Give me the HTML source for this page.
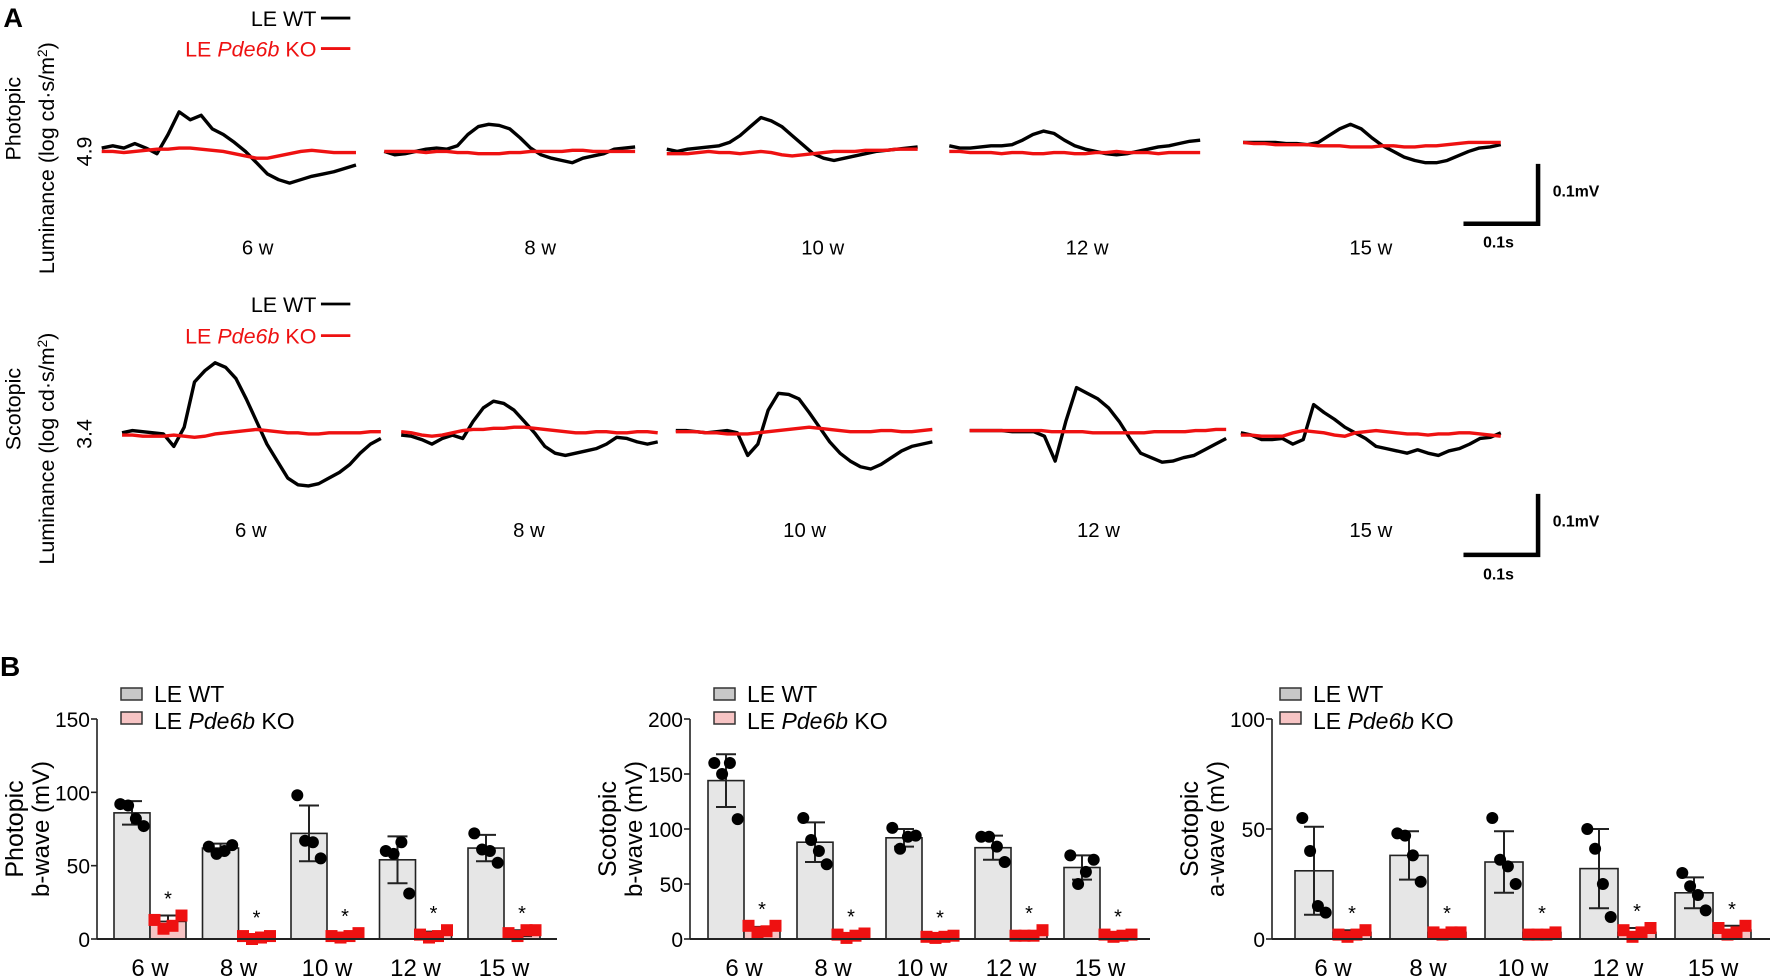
<!DOCTYPE html>
<html><head><meta charset="utf-8"><style>
html,body{margin:0;padding:0;background:#fff;}
svg{display:block;font-family:"Liberation Sans",Arial,sans-serif;}
</style></head><body>
<svg id="fig" width="1772" height="978" viewBox="0 0 1772 978" xmlns="http://www.w3.org/2000/svg">
<g id="panelA" transform="scale(1.1301)">
  <text x="3" y="24" font-size="24" font-weight="bold">A</text>
  <g>
    <text x="280" y="23" font-size="19" text-anchor="end">LE WT</text>
    <line x1="284" y1="16" x2="310" y2="16" stroke="#000" stroke-width="2.5"/>
    <text x="280" y="50" font-size="19" text-anchor="end" fill="#ee1111">LE <tspan font-style="italic">Pde6b</tspan> KO</text>
    <line x1="284" y1="43" x2="310" y2="43" stroke="#ee1111" stroke-width="2.5"/>
  </g>
  <g>
    <text x="280" y="276" font-size="19" text-anchor="end">LE WT</text>
    <line x1="284" y1="269" x2="310" y2="269" stroke="#000" stroke-width="2.5"/>
    <text x="280" y="304" font-size="19" text-anchor="end" fill="#ee1111">LE <tspan font-style="italic">Pde6b</tspan> KO</text>
    <line x1="284" y1="297" x2="310" y2="297" stroke="#ee1111" stroke-width="2.5"/>
  </g>
  <text transform="translate(18,105) rotate(-90)" font-size="19" text-anchor="middle">Photopic</text>
  <text transform="translate(48,140) rotate(-90)" font-size="19" text-anchor="middle">Luminance (log cd·s/m<tspan baseline-shift="super" font-size="12">2</tspan>)</text>
  <text transform="translate(81,134) rotate(-90)" font-size="19" text-anchor="middle">4.9</text>
  <text transform="translate(18,362) rotate(-90)" font-size="19" text-anchor="middle">Scotopic</text>
  <text transform="translate(48,397) rotate(-90)" font-size="19" text-anchor="middle">Luminance (log cd·s/m<tspan baseline-shift="super" font-size="12">2</tspan>)</text>
  <text transform="translate(81,384) rotate(-90)" font-size="19" text-anchor="middle">3.4</text>
  <g>
    <path d="M1361,145 V198 H1295" fill="none" stroke="#000" stroke-width="4"/>
    <text x="1374" y="174" font-size="14" font-weight="bold">0.1mV</text>
    <text x="1326" y="219" font-size="14" font-weight="bold" text-anchor="middle">0.1s</text>
  </g>
  <g>
    <path d="M1361,437 V491 H1295" fill="none" stroke="#000" stroke-width="4"/>
    <text x="1374" y="466" font-size="14" font-weight="bold">0.1mV</text>
    <text x="1326" y="513" font-size="14" font-weight="bold" text-anchor="middle">0.1s</text>
  </g>
  <g id="traces"></g>
</g>
<text x="0" y="676" font-size="28" font-weight="bold">B</text>
<g id="bars"></g>
</svg>
<script>
const NS='http://www.w3.org/2000/svg';
const weekLabels=['6 w','8 w','10 w','12 w','15 w'];

// ---- Panel A trace data (deflection, positive = up) ----
const photoWT6=[3,5,3,7,3,-2,15,35,28,32,20,15,8,0,-10,-20,-25,-28,-25,-22,-20,-18,-15,-12];
const photoKO6=[0,0,-1,0,1,2,2,3,3,2,1,0,-2,-4,-6,-6,-4,-2,0,1,0,-1,-1,-1];
const photoWT8=[0,-3,-2,0,2,3,2,5,15,22,24,23,20,12,3,-3,-6,-8,-10,-6,-4,-2,2,3,4];
const photoKO8=[0,0,0,0,-1,0,0,-1,-1,-2,-2,-2,-1,-1,0,0,0,0,1,1,0,0,0,0,0];
const photoWT10=[2,0,2,3,4,5,8,14,22,30,27,22,14,6,-2,-6,-8,-6,-4,-2,0,1,2,3,4];
const photoKO10=[-2,-2,-2,-1,0,-1,-1,-2,-1,0,-1,-3,-4,-3,-2,-1,0,0,0,1,1,1,2,2,2];
const photoWT12=[5,3,3,4,5,5,6,10,15,18,16,10,5,2,0,-2,-3,-2,0,2,4,5,7,9,10];
const photoKO12=[0,0,-1,-1,-1,-2,-1,-1,-2,-2,-1,-1,-2,-2,-1,-1,0,-1,-1,-1,-2,-1,-1,-1,-1];
const photoWT15=[8,8,8,8,7,7,6,8,14,20,24,20,12,5,0,-5,-8,-10,-10,-8,-4,0,3,4,6];
const photoKO15=[8,7,7,6,6,6,6,5,5,5,4,4,4,5,5,4,4,5,5,6,7,8,8,8,8];
const scotWT6=[0,2,1,0,-1,-12,5,45,55,62,58,48,30,10,-10,-25,-40,-46,-47,-45,-40,-35,-28,-18,-10,-5];
const scotKO6=[-2,-2,-3,-3,-3,-2,-3,-4,-3,-1,0,1,2,3,2,1,0,0,-1,-1,0,0,0,0,1,1];
const scotWT8=[-2,-3,-6,-10,-5,-2,-5,10,22,28,26,20,10,0,-12,-18,-20,-18,-16,-14,-10,-4,-5,-8,-10,-8];
const scotKO8=[1,0,-2,-3,-2,0,2,3,3,4,4,5,5,4,3,2,1,0,0,1,1,0,0,1,1,0];
const scotWT10=[2,2,1,0,1,2,0,-20,-10,20,35,34,30,18,5,-8,-18,-25,-30,-32,-28,-22,-16,-12,-10,-8];
const scotKO10=[1,1,1,0,0,-1,-1,-1,0,1,2,3,4,5,4,3,2,1,1,1,2,2,1,1,2,3];
const scotWT12=[2,2,2,2,1,1,1,-3,-25,10,40,35,30,22,10,-5,-18,-22,-26,-25,-22,-20,-15,-10,-5];
const scotKO12=[2,2,2,2,2,2,2,2,1,1,1,1,0,0,0,0,0,0,1,1,1,1,2,2,3,3];
const scotWT15=[0,-2,-6,-6,-5,-10,-6,25,18,12,5,0,-5,-12,-14,-16,-18,-15,-18,-20,-16,-14,-10,-5,-4,0];
const scotKO15=[-2,-2,-3,-3,-3,0,2,1,0,-2,-3,0,1,2,1,0,-1,-1,-2,-1,-1,0,0,-1,-2,-3];

const traceSets=[
 {row:0,x0:90,x1:315,wt:photoWT6,ko:photoKO6,lab:0},
 {row:0,x0:340,x1:562,wt:photoWT8,ko:photoKO8,lab:1},
 {row:0,x0:590,x1:812,wt:photoWT10,ko:photoKO10,lab:2},
 {row:0,x0:840,x1:1062,wt:photoWT12,ko:photoKO12,lab:3},
 {row:0,x0:1100,x1:1328,wt:photoWT15,ko:photoKO15,lab:4},
 {row:1,x0:108,x1:337,wt:scotWT6,ko:scotKO6,lab:0},
 {row:1,x0:355,x1:582,wt:scotWT8,ko:scotKO8,lab:1},
 {row:1,x0:598,x1:825,wt:scotWT10,ko:scotKO10,lab:2},
 {row:1,x0:858,x1:1085,wt:scotWT12,ko:scotKO12,lab:3},
 {row:1,x0:1098,x1:1328,wt:scotWT15,ko:scotKO15,lab:4}];
const rowBase=[134,383], rowLabelY=[225,475];
const labCx=[[228,478,728,962,1213],[222,468,712,972,1213]];
const tg=document.getElementById('traces');
function traceY(row,v){return rowBase[row]-v;}
function tracePath(arr,x0,x1,row){
  const n=arr.length;let d='';
  arr.forEach((v,i)=>{const x=x0+(x1-x0)*i/(n-1);d+=(i?'L':'M')+x.toFixed(1)+','+traceY(row,v).toFixed(1);});
  return d;
}
traceSets.forEach((t,k)=>{
  const pk=document.createElementNS(NS,'path');
  pk.setAttribute('d',tracePath(t.ko,t.x0,t.x1,t.row));
  pk.setAttribute('fill','none');pk.setAttribute('stroke','#ee1111');pk.setAttribute('stroke-width','3');
  
  
  const pw=document.createElementNS(NS,'path');
  pw.setAttribute('d',tracePath(t.wt,t.x0,t.x1,t.row));
  pw.setAttribute('fill','none');pw.setAttribute('stroke','#000');pw.setAttribute('stroke-width','3');pw.setAttribute('stroke-linejoin','round');
  
  
  tg.appendChild(pw);tg.appendChild(pk);
  const tx=document.createElementNS(NS,'text');
  tx.setAttribute('x',labCx[t.row][t.lab]);tx.setAttribute('y',rowLabelY[t.row]);
  tx.setAttribute('font-size','18');tx.setAttribute('text-anchor','middle');
  tx.textContent=weekLabels[t.lab];
  
  
  tg.appendChild(tx);
});

// ---- Panel B bar data ----
const photoWTMean=[86,62,72,54,62], photoWTSD=[8,3,19,16,9];
const photoWTPts=[[92,91,82,77],[63,58,60,64],[98,67,66,55],[60,58,66,31],[72,61,60,52]];
const photoKOMean=[12,2,2,3,4], photoKOSD=[4,1,1,2,2];
const photoKOPts=[[13,7,9,16],[2,0,1,2],[2,1,2,4],[3,1,2,6],[4,2,6,6]];
const scotBWTMean=[144,88,92,83,65], scotBWTSD=[24,18,8,11,11];
const scotBWTPts=[[160,150,160,109],[110,90,80,68],[101,82,93,94],[93,93,84,70],[76,50,61,72]];
const scotBKOMean=[9,4,3,4,4], scotBKOSD=[2,1,1,2,1];
const scotBKOPts=[[12,6,7,12],[4,1,3,5],[2,1,2,3],[3,3,3,8],[4,2,3,4]];
const scotAWTMean=[31,38,35,32,21], scotAWTSD=[20,11,14,18,7];
const scotAWTPts=[[55,40,15,12],[48,47,38,26],[55,36,33,25],[50,41,25,10],[30,24,20,13]];
const scotAKOMean=[3,3,3,3,4], scotAKOSD=[1,1,1,2,2];
const scotAKOPts=[[2,1,2,4],[3,2,3,3],[2,2,2,3],[4,1,3,5],[5,2,3,6]];
const photoTicks=[0,50,100,150], scotBTicks=[0,50,100,150,200], scotATicks=[0,50,100];

const charts=[
 {ax:97,len:460,off:17,sp:88.5,bw:36,max:150,ticks:photoTicks,wm:photoWTMean,ws:photoWTSD,wp:photoWTPts,km:photoKOMean,ks:photoKOSD,kp:photoKOPts,t1:'Photopic',t2:'b-wave (mV)',name:'photopic-b-wave'},
 {ax:690,len:460,off:18,sp:89,bw:36,max:200,ticks:scotBTicks,wm:scotBWTMean,ws:scotBWTSD,wp:scotBWTPts,km:scotBKOMean,ks:scotBKOSD,kp:scotBKOPts,t1:'Scotopic',t2:'b-wave (mV)',name:'scotopic-b-wave'},
 {ax:1272,len:498,off:23,sp:95,bw:38,max:100,ticks:scotATicks,wm:scotAWTMean,ws:scotAWTSD,wp:scotAWTPts,km:scotAKOMean,ks:scotAKOSD,kp:scotAKOPts,t1:'Scotopic',t2:'a-wave (mV)',name:'scotopic-a-wave'}];
const Y0=939, YT=719;
const bg=document.getElementById('bars');
function mk(tag,attrs,parent){const e=document.createElementNS(NS,tag);for(const k in attrs)e.setAttribute(k,attrs[k]);parent.appendChild(e);return e;}
charts.forEach(c=>{
  const g=mk('g',{},bg);
  
  
  const ys=v=>Y0-(v/c.max)*(Y0-YT);
  const dx=[-9,-3,3,9];
  c.wm.forEach((m,i)=>{
    const xw=c.ax+c.off+i*c.sp, xk=xw+c.bw;
    const bw=mk('rect',{x:xw,y:ys(m),width:c.bw,height:Y0-ys(m),fill:'#e6e6e6',stroke:'#222','stroke-width':1.6},g);
    
    
    const km=c.km[i];
    const bk=mk('rect',{x:xk,y:ys(km),width:c.bw,height:Y0-ys(km),fill:'#f7c4c4',stroke:'#222','stroke-width':1.6},g);
    
    
    [[xw,m,c.ws[i]],[xk,km,c.ks[i]]].forEach(([x,mm,sd])=>{
      const cx=x+c.bw/2;
      mk('path',{d:`M${cx},${ys(mm+sd)}V${ys(Math.max(0,mm-sd))}M${cx-10},${ys(mm+sd)}h20M${cx-10},${ys(Math.max(0,mm-sd))}h20`,stroke:'#222','stroke-width':2,fill:'none'},g);
    });
    c.wp[i].forEach((v,j)=>{
      const d=mk('circle',{cx:xw+c.bw/2+dx[j]*1.3,cy:ys(v),r:6,fill:'#000'},g);
      
      
    });
    c.kp[i].forEach((v,j)=>{
      const s=mk('rect',{x:xk+c.bw/2+dx[j]*1.5-6,y:ys(v)-6,width:12,height:12,fill:'#ee1111'},g);
      
      
    });
    const top=Math.max(...c.kp[i],km+c.ks[i]);
    const st=mk('text',{x:xk+c.bw/2,y:ys(top)-10,'font-size':20,'text-anchor':'middle'},g);
    st.textContent='*';
    
    
    const lb=mk('text',{x:xk,y:976,'font-size':24,'text-anchor':'middle'},g);
    lb.textContent=weekLabels[i];
    
    
  });
  mk('line',{x1:c.ax,y1:YT,x2:c.ax,y2:Y0,stroke:'#222','stroke-width':1.6},g);
  mk('line',{x1:c.ax,y1:Y0,x2:c.ax+c.len,y2:Y0,stroke:'#222','stroke-width':2},g);
  c.ticks.forEach(t=>{
    mk('line',{x1:c.ax-6,y1:ys(t),x2:c.ax,y2:ys(t),stroke:'#222','stroke-width':1.6},g);
    const tl=mk('text',{x:c.ax-7,y:ys(t)+8,'font-size':21,'text-anchor':'end'},g);
    tl.textContent=t;
    
    
  });
  const t1=mk('text',{transform:`translate(${c.ax-74},829) rotate(-90)`,'font-size':25,'text-anchor':'middle'},g);
  t1.textContent=c.t1;
  
  
  const t2=mk('text',{transform:`translate(${c.ax-48},829) rotate(-90)`,'font-size':24,'text-anchor':'middle'},g);
  t2.textContent=c.t2;
  
  
  const lx=c.ax+(c===charts[2]?8:24);
  const l1=mk('rect',{x:lx,y:688,width:21,height:12,fill:'#c8c8c8',stroke:'#333','stroke-width':1.5},g);
  
  
  const l2=mk('rect',{x:lx,y:712,width:21,height:12,fill:'#f7c4c4',stroke:'#333','stroke-width':1.5},g);
  
  
  const lt1=mk('text',{x:lx+33,y:702,'font-size':23},g);
  lt1.textContent='LE WT';
  
  
  const lt2=mk('text',{x:lx+33,y:729,'font-size':23},g);
  lt2.innerHTML='LE <tspan font-style="italic">Pde6b</tspan> KO';
  
  
});
</script>
</body></html>
